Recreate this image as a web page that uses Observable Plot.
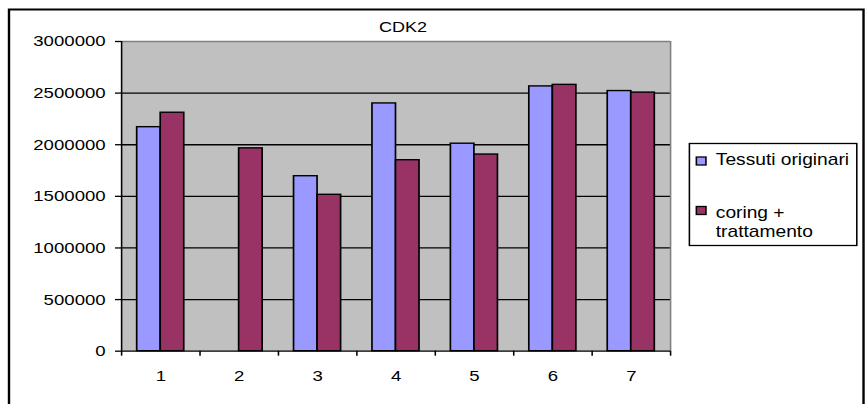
<!DOCTYPE html>
<html>
<head>
<meta charset="utf-8">
<script src="https://cdn.jsdelivr.net/npm/d3@7"></script>
<script src="https://cdn.jsdelivr.net/npm/@observablehq/plot@0.6"></script>
<style>
  html, body { margin: 0; padding: 0; background: #fff; overflow: hidden; }
  /* The chart is laid out in a narrower box and widened horizontally,
     giving the wide Arial-style lettering of the original sheet chart. */
  #chart {
    position: relative;
    width: 721.667px;
    height: 404px;
    transform: scaleX(1.2);
    transform-origin: 0 0;
  }
  #chart svg { position: absolute; left: 0; top: 0; }
  #overlay { pointer-events: none; }
</style>
</head>
<body>
<div id="chart"></div>
<script>
// Sample numbers (x axis categories)
const categories = ["1", "2", "3", "4", "5", "6", "7"];
// Series values
const tessutiOriginari = [2170000, null, 1695000, 2400000, 2010000, 2565000, 2520000];
const coringTrattamento = [2310000, 1965000, 1515000, 1850000, 1905000, 2580000, 2505000];
// Y axis tick values
const yTicks = [0, 500000, 1000000, 1500000, 2000000, 2500000, 3000000];
// Series names and colours
const seriesNames = ["Tessuti originari", "coring +\ntrattamento"];
const seriesColors = ["#9999ff", "#993366"];
const titleText = "CDK2";

const W = 721.667;
const H = 404;
const barWidth = 0.3; // fraction of a category step per bar

// Category positions on a linear x scale: category i sits at i + 1
const positions = categories.map((c, i) => i + 1);
const boundaries = [0.5, ...positions.map(p => p + 0.5)];

const rows = [];
categories.forEach((c, i) => {
  if (tessutiOriginari[i] != null)
    rows.push({ series: 0, x1: positions[i] - barWidth, x2: positions[i], value: tessutiOriginari[i] });
  if (coringTrattamento[i] != null)
    rows.push({ series: 1, x1: positions[i], x2: positions[i] + barWidth, value: coringTrattamento[i] });
});

const plot = Plot.plot({
  width: W,
  height: H,
  marginLeft: 100.83,
  marginRight: W - 558.33,
  marginTop: 41,
  marginBottom: 53.3,
  style: {
    fontFamily: "'Liberation Sans', Arial, sans-serif",
    fontSize: "15.5px",
    color: "#000",
    background: "transparent"
  },
  x: { type: "linear", domain: [boundaries[0], boundaries[boundaries.length - 1]] },
  y: { domain: [yTicks[0], yTicks[yTicks.length - 1]] },
  marks: [
    Plot.frame({ fill: "#c0c0c0" }),
    Plot.ruleY(yTicks.slice(1, -1), { stroke: "#000", strokeWidth: 1.3 }),
    Plot.ruleY([yTicks[yTicks.length - 1]], { stroke: "#808080", strokeWidth: 1.3 }),
    Plot.ruleX([boundaries[boundaries.length - 1]], { stroke: "#808080", strokeWidth: 1.3 }),
    Plot.rectY(rows, {
      x1: "x1", x2: "x2", y1: 0, y2: "value",
      fill: d => seriesColors[d.series],
      stroke: "#000", strokeWidth: 1.4
    }),
    Plot.ruleX([boundaries[0]], { stroke: "#000", strokeWidth: 1.3 }),
    Plot.ruleY([0], { stroke: "#000", strokeWidth: 1.3 }),
    Plot.axisY({ ticks: yTicks, tickSize: 5, tickPadding: 8.3, strokeWidth: 1.3, tickFormat: d3.format("d"), label: null }),
    Plot.axisX({ ticks: boundaries, tickSize: 5, strokeWidth: 1.3, tickFormat: () => "", label: null }),
    Plot.axisX({ ticks: positions, tickSize: 0, tickPadding: 19, tickFormat: p => categories[p - 1], label: null })
  ]
});

const chart = document.getElementById("chart");
chart.appendChild(plot);

// Chart border, title and legend box drawn on top
const svg = d3.select(chart).append("svg")
  .attr("id", "overlay")
  .attr("width", W).attr("height", H)
  .style("font-family", "'Liberation Sans', Arial, sans-serif");

svg.append("rect")
  .attr("x", 7.5).attr("y", 9.5)
  .attr("width", 719.6 - 7.5).attr("height", 420)
  .attr("fill", "none").attr("stroke", "#000").attr("stroke-width", 2);

svg.append("text")
  .attr("x", 335.8).attr("y", 32)
  .attr("text-anchor", "middle")
  .attr("font-size", 15)
  .text(titleText);

svg.append("rect")
  .attr("x", 574.5).attr("y", 143.5)
  .attr("width", 139.5).attr("height", 102)
  .attr("fill", "#fff").attr("stroke", "#000").attr("stroke-width", 1.3);

const legendRows = [
  { swatchY: 157, lines: seriesNames[0].split("\n"), baseline: 165.5 },
  { swatchY: 206.5, lines: seriesNames[1].split("\n"), baseline: 218.5 }
];
legendRows.forEach((r, i) => {
  svg.append("rect")
    .attr("x", 580.3).attr("y", r.swatchY)
    .attr("width", 8).attr("height", 8)
    .attr("fill", seriesColors[i]).attr("stroke", "#000").attr("stroke-width", 1.3);
  r.lines.forEach((line, j) => {
    svg.append("text")
      .attr("x", 596.5).attr("y", r.baseline + j * 19)
      .attr("font-size", 16)
      .text(line);
  });
});
</script>
</body>
</html>
